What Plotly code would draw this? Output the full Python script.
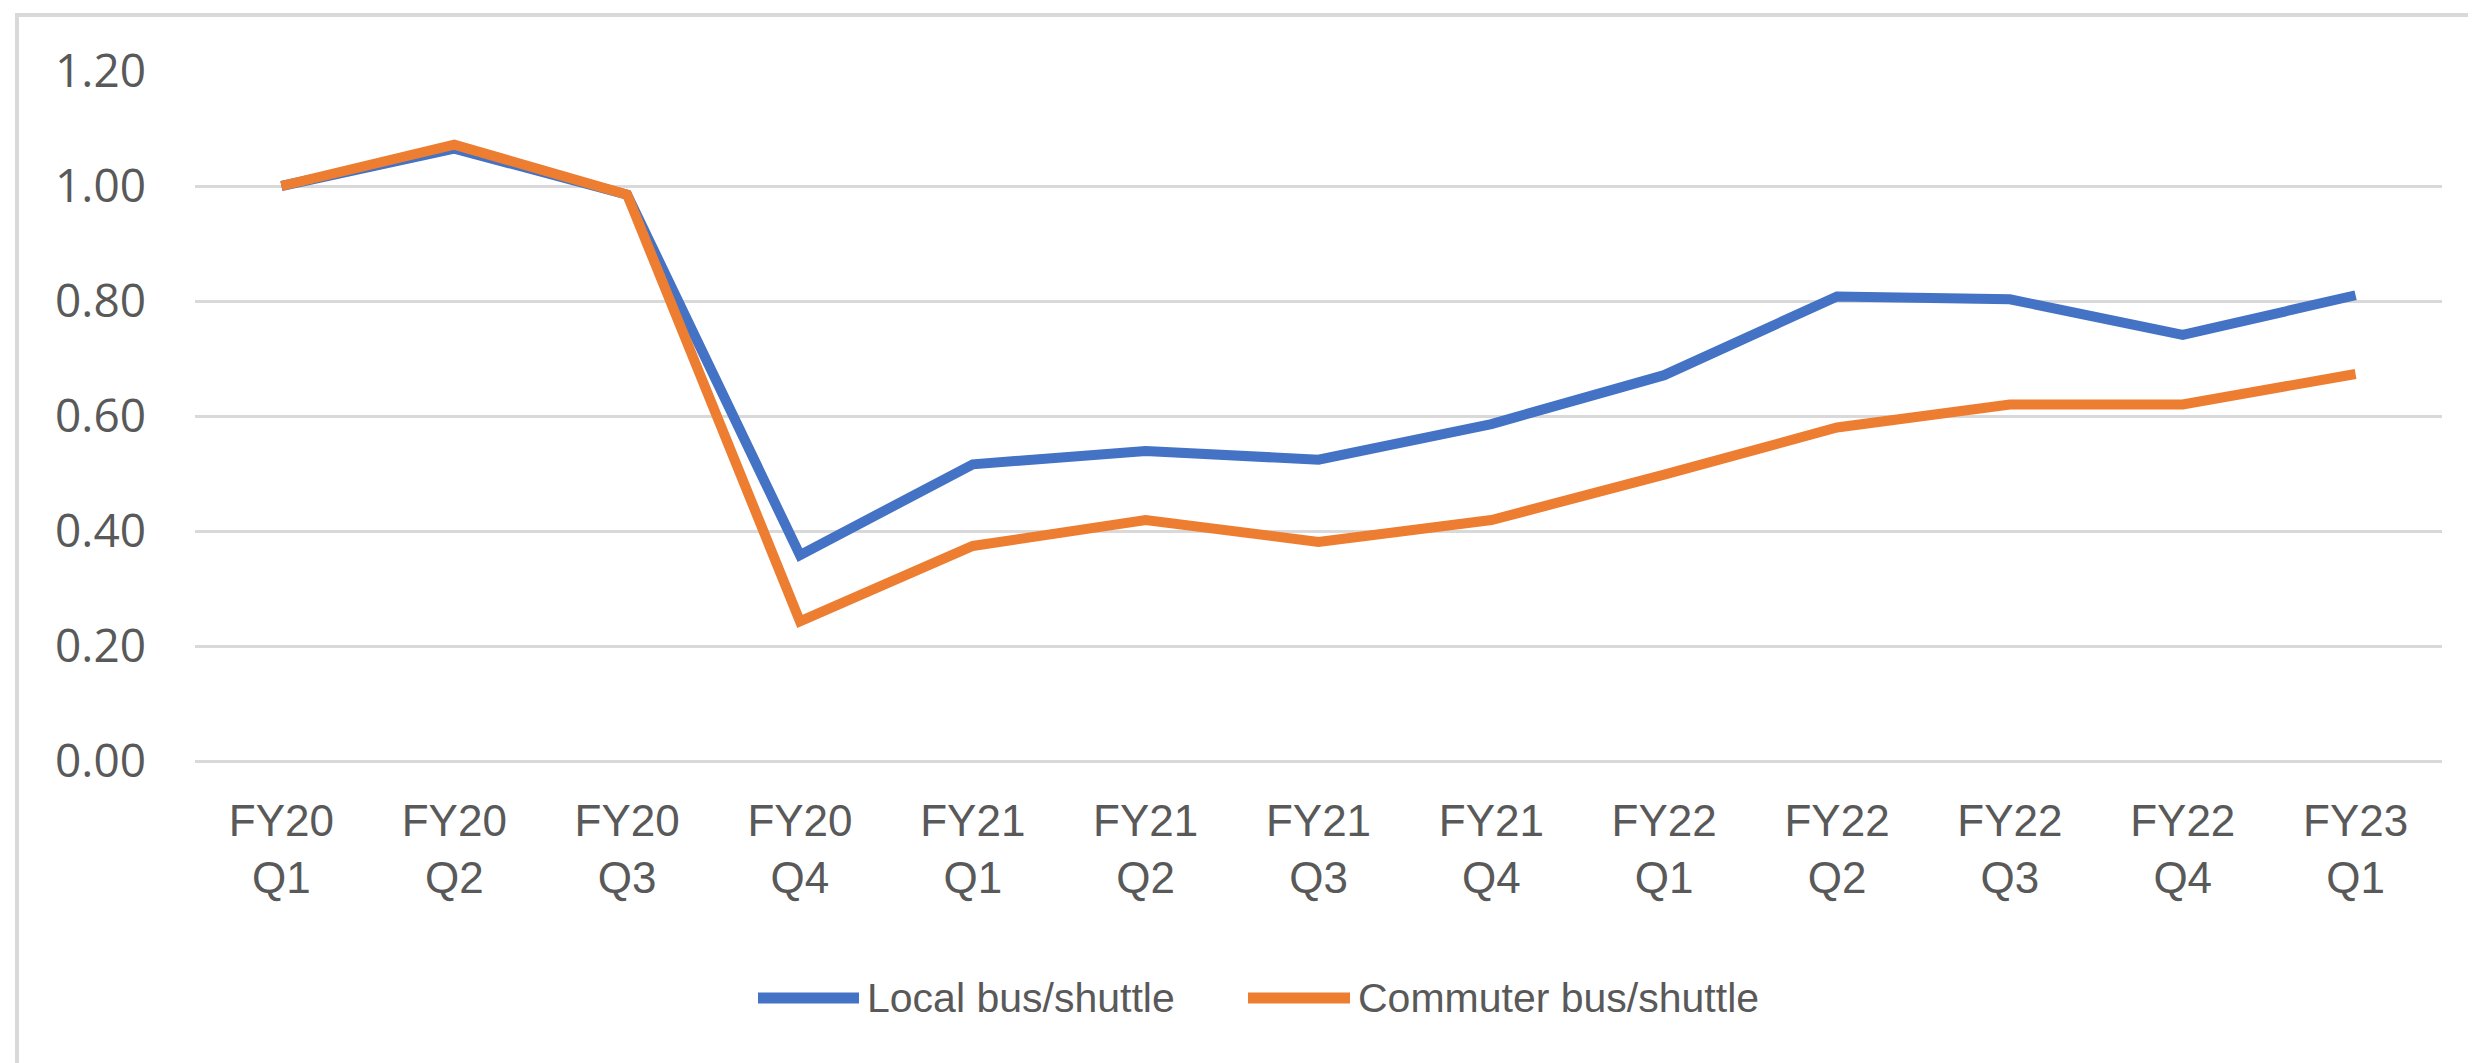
import plotly.graph_objects as go

categories = ["FY20<br>Q1", "FY20<br>Q2", "FY20<br>Q3", "FY20<br>Q4",
              "FY21<br>Q1", "FY21<br>Q2", "FY21<br>Q3", "FY21<br>Q4",
              "FY22<br>Q1", "FY22<br>Q2", "FY22<br>Q3", "FY22<br>Q4",
              "FY23<br>Q1"]
local_bus = [1.00, 1.065, 0.985, 0.358, 0.516, 0.539, 0.524, 0.586,
             0.671, 0.808, 0.803, 0.741, 0.810]
commuter_bus = [1.00, 1.072, 0.985, 0.243, 0.374, 0.419, 0.381, 0.419,
                0.498, 0.580, 0.620, 0.620, 0.673]
series_names = ["Local bus/shuttle", "Commuter bus/shuttle"]
y_ticks = [0.0, 0.2, 0.4, 0.6, 0.8, 1.0, 1.2]

BLUE = "#4472C4"
ORANGE = "#ED7D31"
GRID = "#D9D9D9"
TEXT = "#595959"
NARROW = "Liberation Sans Narrow, Arial Narrow, Liberation Sans, Arial, sans-serif"

W, H = 2476, 1063
L, R, T, B = 187, 42, 63, 310
PW, PH = W - L - R, H - T - B


def px(x):
    return (x - L) / PW


def py(y):
    return (H - B - y) / PH


fig = go.Figure()
fig.add_trace(go.Scatter(x=categories, y=local_bus, mode="lines", name=series_names[0],
                         line=dict(color=BLUE, width=10), showlegend=False))
fig.add_trace(go.Scatter(x=categories, y=commuter_bus, mode="lines", name=series_names[1],
                         line=dict(color=ORANGE, width=10), showlegend=False))

LEG_Y = 990
shapes = [
    dict(type="rect", xref="paper", yref="paper", x0=px(9), x1=px(2500), y0=py(1061), y1=py(7),
         line=dict(color=GRID, width=4), fillcolor="rgba(0,0,0,0)", layer="below"),
    dict(type="line", xref="paper", yref="paper", x0=px(750), x1=px(851), y0=py(LEG_Y), y1=py(LEG_Y),
         line=dict(color=BLUE, width=11)),
    dict(type="line", xref="paper", yref="paper", x0=px(1240), x1=px(1342), y0=py(LEG_Y), y1=py(LEG_Y),
         line=dict(color=ORANGE, width=11)),
]
annotations = [
    dict(xref="paper", yref="paper", x=px(857), y=py(LEG_Y), text=series_names[0], showarrow=False,
         xanchor="left", yanchor="middle", font=dict(family=NARROW, size=41, color=TEXT)),
    dict(xref="paper", yref="paper", x=px(1348), y=py(LEG_Y), text=series_names[1], showarrow=False,
         xanchor="left", yanchor="middle", font=dict(family=NARROW, size=41, color=TEXT)),
]

fig.update_layout(
    width=W, height=H,
    margin=dict(l=L, r=R, t=T, b=B, pad=0),
    paper_bgcolor="white", plot_bgcolor="white",
    shapes=shapes, annotations=annotations,
    showlegend=False,
    xaxis=dict(type="category", range=[-0.5, len(categories) - 0.5],
               showgrid=False, zeroline=False, showline=False,
               ticks="", tickfont=dict(family=NARROW, size=44, color=TEXT),
               ticklabelstandoff=30),
    yaxis=dict(range=[0, 1.2], tickvals=y_ticks, tickformat=".2f",
               showgrid=True, gridcolor=GRID, gridwidth=3,
               zeroline=True, zerolinecolor=GRID, zerolinewidth=3,
               showline=False, ticks="",
               tickfont=dict(family="Open Sans, Noto Sans, sans-serif", size=46, color=TEXT),
               ticklabelstandoff=48),
)

fig.write_html("out.html")
